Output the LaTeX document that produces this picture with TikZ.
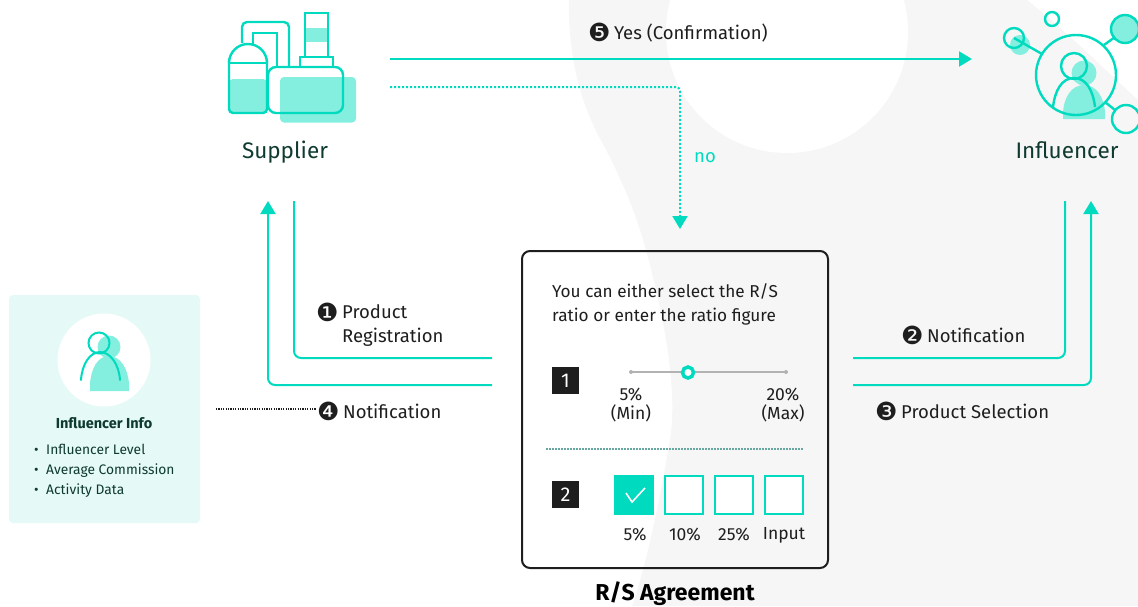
\documentclass[tikz,border=0pt]{standalone}
\usepackage{fontspec}
\setmainfont{Fira Sans}
\newfontfamily\symfont{DejaVu Sans}
\usetikzlibrary{arrows.meta}
\definecolor{teal}{HTML}{00DBBF}
\definecolor{lteal}{HTML}{84EEDF}
\definecolor{panel}{HTML}{E5F9F6}
\definecolor{greybg}{HTML}{F6F6F6}
\definecolor{dgreen}{HTML}{0E3A30}
\definecolor{ink}{HTML}{1E1E1E}
\tikzset{
  conn/.style={draw=teal,line width=2pt,rounded corners=7pt},
  connarrow/.style={conn,-{Triangle[length=13pt,width=15pt,color=teal]}},
  dotconn/.style={draw=teal,line width=2pt,dash pattern=on 2pt off 2pt,rounded corners=4pt,-{Triangle[length=13pt,width=15pt,color=teal]}},
  icon/.style={draw=teal,line width=2.4pt},
  iconfill/.style={fill=lteal,draw=none},
  lab/.style={text=ink,font=\fontsize{18.5}{22}\selectfont,inner sep=0pt,anchor=base west},
  small/.style={text=ink,font=\fontsize{17.5}{19}\selectfont,inner sep=0pt,align=center},
  head/.style={text=dgreen,font=\fontsize{22.5}{26}\selectfont,inner sep=0pt,anchor=base},
  item/.style={text=dgreen,font=\fontsize{13.8}{16}\selectfont,inner sep=0pt,anchor=base west},
  sq/.style={fill=ink,text=white,minimum size=27pt,inner sep=0pt,font=\fontsize{20}{22}\selectfont},
  opt/.style={draw=teal,line width=2pt,fill=white,minimum size=38pt,inner sep=0pt,outer sep=0pt},
}
\newcommand{\bul}[1]{\raisebox{-2.2pt}{\fontsize{25}{25}\symfont #1}}
\begin{document}
\begin{tikzpicture}[x=1pt,y=-1pt]
\useasboundingbox (0,0) rectangle (1138,606);
% background
\fill[greybg] (569,0) .. controls (568,50) and (578,95) .. (597,133)
  .. controls (620,175) and (635,210) .. (646,250)
  .. controls (665,320) and (680,400) .. (668,450)
  .. controls (660,500) and (645,570) .. (632,606)
  -- (1138,606) -- (1138,100) .. controls (1100,65) and (1065,30) .. (1027,0) -- cycle;
\fill[white] (787,32) circle[radius=121];
% Card
\node[draw=ink,line width=2pt,rounded corners=8pt,minimum width=306pt,minimum height=317pt,anchor=north west,inner sep=0pt,outer sep=0pt] (card) at (522,251) {};
% Supplier icon
\fill[iconfill,rounded corners=4pt] (280,77) rectangle (356,122.5);
\fill[lteal,rounded corners=4pt] (229,79) -- (229,113) -- (267,113) -- (267,79) -- cycle;
\fill[lteal] (305,28) rectangle (328,42);
\draw[icon,line join=round] (229,63) -- (267,63);
\draw[icon] (229,63) arc[start angle=180,end angle=360,radius=19];
\draw[icon,rounded corners=4pt] (229,60) -- (229,113) -- (267,113) -- (267,60);
\draw[icon,rounded corners=5pt] (242,43) -- (242,22) -- (289,22) -- (289,67);
\draw[icon] (253,44) -- (253,33) -- (277,33) -- (277,67);
\draw[icon] (305,57) -- (305,13) -- (328,13) -- (328,57);
\draw[icon] (300,67) -- (300,57) -- (333,57) -- (333,67);
\draw[icon,rounded corners=8pt] (268,67) rectangle (343,113);
% Influencer icon
\fill[iconfill] (1020,45) circle[radius=10];
\fill[iconfill] (1084,73) circle[radius=12.5];
\fill[iconfill] (1063,119) -- (1063,112) .. controls (1064,98) and (1071,85) .. (1084,85) .. controls (1097,85) and (1104,98) .. (1105,112) -- (1105,119) -- cycle;
\draw[icon] (1076,75) circle[radius=40];
\draw[icon] (1052,19) circle[radius=7];
\draw[icon] (1014,38) circle[radius=10];
\draw[icon] (1014,38) -- (1042,54);
\draw[icon,fill=lteal] (1125,29) circle[radius=14];
\draw[icon] (1104,45) -- (1115,37);
\draw[icon] (1126,119) circle[radius=14];
\draw[icon] (1105,102) -- (1115,110);
\draw[icon] (1074,66) circle[radius=13];
\draw[icon] (1053,107) .. controls (1055,90) and (1062,78) .. (1074,78) .. controls (1086,78) and (1093,90) .. (1095,107);
% Info panel
\fill[panel,rounded corners=4pt] (9,295) rectangle (200,523);
\fill[white] (104,360) circle[radius=46.5];
\fill[iconfill] (109,347) circle[radius=11.5];
\fill[iconfill] (90,391) -- (90,384) .. controls (91,368) and (98,356) .. (109,356) .. controls (120,356) and (128,368) .. (129,384) -- (129,391) -- cycle;
\draw[icon,line width=2pt] (99,343) circle[radius=10.5];
\draw[icon,line width=2pt,line cap=round] (81,380) .. controls (82,364) and (90,352) .. (100,352) .. controls (110,352) and (119,364) .. (120,380);
\node[text=dgreen,font=\fontsize{14.5}{16}\selectfont\bfseries,inner sep=0pt] (infotitle) at (104,423) {Influencer Info};
\node[item] (i1) at (46,454) {Influencer Level};
\node[item] (i2) at (46,474) {Average Commission};
\node[item] (i3) at (46,494) {Activity Data};
\node[item] (b1) at (34,454) {•};
\node[item] (b2) at (34,474) {•};
\node[item] (b3) at (34,494) {•};
% Heads
\node[head] (supplier) at (285,158) {Supplier};
\node[head] (influencer) at (1067,158) {Influencer};
% Card contents
\node[inner sep=0pt,text=ink,anchor=west,align=left,font=\fontsize{17.2}{24}\selectfont] (cardtext) at (552,304) {You can either select the R/S\\ratio or enter the ratio figure};
\node[sq] (n1) at (565.5,380.5) {1};
\node[sq] (n2) at (565.5,494.5) {2};
\coordinate (sa) at (631,372);
\coordinate (sb) at (786,372);
\draw[draw=black!30,line width=2.2pt] (sa) -- (sb);
\fill[black!30] (sa) circle[radius=2] (sb) circle[radius=2];
\node[circle,draw=teal,line width=3.5pt,fill=white,minimum size=11pt,inner sep=0pt] (knob) at (688,372.5) {};
\node[small] (mn) at (631,405) {5\%\\(Min)};
\node[small] (mx) at (783,405) {20\%\\(Max)};
\coordinate (da) at (546,449);
\coordinate (db) at (804,449);
\draw[draw=teal!50!black!60,line width=1.5pt,dash pattern=on 1.5pt off 1.5pt] (da) -- (db);
\node[opt,fill=teal] (o1) at (634,495) {};
\node[opt] (o2) at (684,495) {};
\node[opt] (o3) at (734,495) {};
\node[opt] (o4) at (784,495) {};
\draw[white,line width=1.6pt] (626,493) -- (632,502) -- (645,488);
\node[small] (l1) at (635,535) {5\%};
\node[small] (l2) at (685,535) {10\%};
\node[small] (l3) at (734,535) {25\%};
\node[small] (l4) at (784,535.5) {Input};
\node[text=black,font=\fontsize{23}{26}\selectfont\bfseries,inner sep=0pt] (agr) at (675,594) {R/S Agreement};
% connector ends
\coordinate (yesA) at (390,59);
\coordinate (yesB) at (972,59);
\coordinate (noA) at (390,87);
\coordinate (noB) at (680,229);
\coordinate (s1) at (294,201);
\coordinate (s2) at (492,358);
\coordinate (s3) at (492,385);
\coordinate (s4) at (268,201);
\coordinate (r1) at (853,358);
\coordinate (r2) at (1065,201);
\coordinate (r3) at (853,385);
\coordinate (r4) at (1091,201);
\coordinate (nA) at (216,409);
\coordinate (nB) at (316,409);
\draw[connarrow] (yesA) -- (yesB);
\draw[dotconn] (noA) -| (noB);
\draw[conn] (s1) |- (s2);
\draw[connarrow] (s3) -| (s4);
\draw[conn] (r1) -| (r2);
\draw[connarrow] (r3) -| (r4);
\draw[draw=ink,line width=1.2pt,dash pattern=on 1.2pt off 1.2pt] (nA) -- (nB);
% Labels
\node[lab] (yes) at (588,39) {\bul{❺}\hspace{3.5pt}Yes (Confirmation)};
\node[lab,text=teal] (no) at (694,162) {no};
\node[lab] (l1a) at (316,319) {\bul{❶}};
\node[inner sep=0pt,text=ink,anchor=west,align=left,font=\fontsize{18.5}{24}\selectfont] (pr) at (342,325.5) {Product\\Registration};
\node[lab] (not2) at (901,342) {\bul{❷}\hspace{3.5pt}Notification};
\node[lab] (sel3) at (875,418) {\bul{❸}\hspace{3.5pt}Product Selection};
\node[lab] (not4) at (317,418) {\bul{❹}\hspace{3.5pt}Notification};
\end{tikzpicture}
\end{document}
